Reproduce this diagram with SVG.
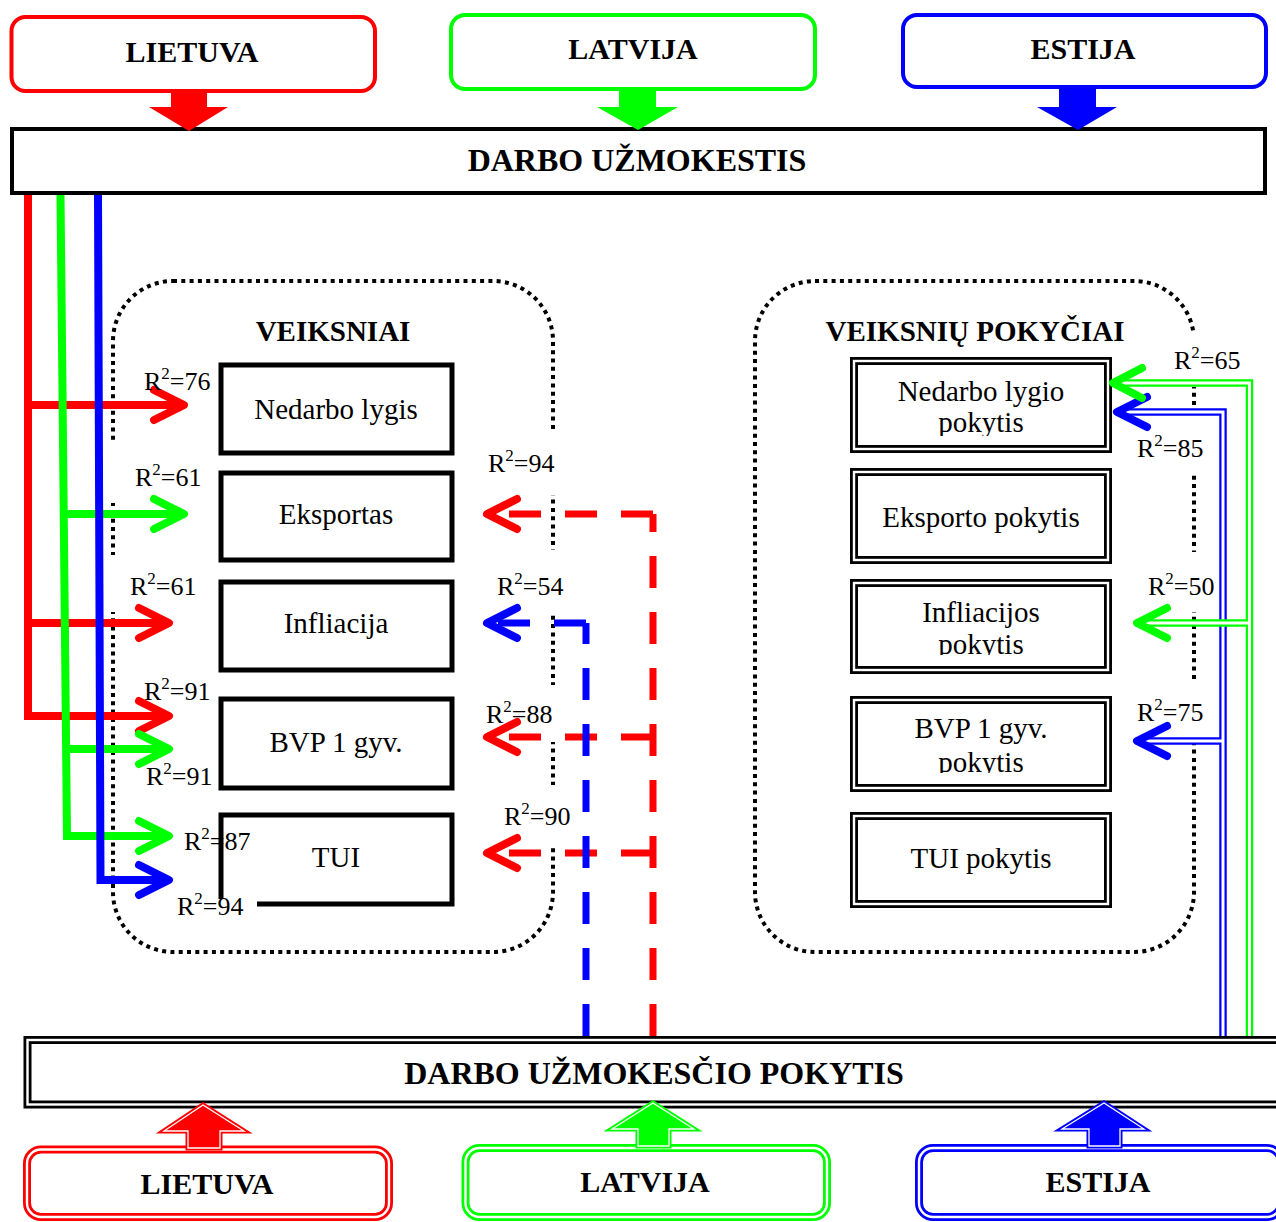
<svg xmlns="http://www.w3.org/2000/svg" width="1276" height="1222" viewBox="0 0 1276 1222">
<defs>
<style>
text{font-family:"Liberation Serif","Times New Roman",serif;fill:#000}
.ti{font-size:30px;font-weight:bold;text-anchor:middle}
.tb{font-size:32px;font-weight:bold;text-anchor:middle}
.td{font-size:29px;font-weight:bold;text-anchor:middle}
.bx{font-size:29px;text-anchor:middle}
.lb{font-size:26px}
.sp{font-size:17px}
.cbox{fill:#fff;stroke-width:4}
.box{fill:#fff;stroke:#000;stroke-width:5}
.bar{fill:#fff;stroke:#000;stroke-width:4}
.dO{fill:#fff;stroke-width:8}
.dI{fill:none;stroke:#fff;stroke-width:2.4}
.dot{fill:none;stroke:#000;stroke-width:4;stroke-dasharray:4 4.3}
.cover{fill:#fff}
.sol{fill:none;stroke-width:8}
.dash{fill:none;stroke-width:7;stroke-dasharray:32 24}
.dl{fill:none;stroke-width:7.5}
.dlw{fill:none;stroke:#fff;stroke-width:3}
.chev{fill:none;stroke-width:8;stroke-linecap:round;stroke-linejoin:round}
.aw{fill:none;stroke:#fff;stroke-width:1.3}
.red{stroke:#ff0000}.grn{stroke:#00ff00}.blu{stroke:#0000ff}
.fr{fill:#ff0000}.fg{fill:#00ff00}.fb{fill:#0000ff}
</style>
<marker id="aR" viewBox="-36 -20 42 40" markerWidth="42" markerHeight="40" refX="0" refY="0" orient="auto" markerUnits="userSpaceOnUse"><path d="M-30,-15 L0,0 L-30,15" fill="none" stroke="#ff0000" stroke-width="8" stroke-linecap="round" stroke-linejoin="round"/></marker>
<marker id="aG" viewBox="-36 -20 42 40" markerWidth="42" markerHeight="40" refX="0" refY="0" orient="auto" markerUnits="userSpaceOnUse"><path d="M-30,-15 L0,0 L-30,15" fill="none" stroke="#00ff00" stroke-width="8" stroke-linecap="round" stroke-linejoin="round"/></marker>
<marker id="aB" viewBox="-36 -20 42 40" markerWidth="42" markerHeight="40" refX="0" refY="0" orient="auto" markerUnits="userSpaceOnUse"><path d="M-30,-15 L0,0 L-30,15" fill="none" stroke="#0000ff" stroke-width="8" stroke-linecap="round" stroke-linejoin="round"/></marker>
<clipPath id="c1"><rect x="858" y="364" width="246" height="72"/></clipPath>
<clipPath id="c3"><rect x="858" y="586" width="246" height="69"/></clipPath>
<clipPath id="c4"><rect x="858" y="703" width="246" height="70"/></clipPath>
</defs>

<g id="veiksniai">
<rect class="dot" x="113" y="281" width="440" height="671" rx="60"/>
<text class="td" x="333" y="341">VEIKSNIAI</text>
</g>
<g id="veiksniu-pokyciai">
<rect class="dot" x="755" y="281" width="439" height="671" rx="60"/>
<text class="td" x="975" y="341">VEIKSNIŲ POKYČIAI</text>
</g>
<g id="covers">
<rect class="cover" x="545" y="433" width="16" height="62"/>
<rect class="cover" x="545" y="550" width="16" height="63"/>
<rect class="cover" x="545" y="685" width="16" height="57"/>
<rect class="cover" x="545" y="785" width="16" height="60"/>
<rect class="cover" x="105" y="443" width="16" height="60"/>
<rect class="cover" x="105" y="555" width="16" height="57"/>
<rect class="cover" x="1186" y="333" width="16" height="54"/>
<rect class="cover" x="1186" y="412" width="16" height="61"/>
<rect class="cover" x="1186" y="552" width="16" height="60"/>
<rect class="cover" x="1186" y="680" width="16" height="58"/>
</g>

<g id="lietuva-top"><rect class="cbox red" x="11.5" y="17" width="363.5" height="74" rx="14"/><text class="ti" x="192" y="62">LIETUVA</text></g>
<g id="latvija-top"><rect class="cbox grn" x="451" y="15" width="364" height="74" rx="14"/><text class="ti" x="633" y="59">LATVIJA</text></g>
<g id="estija-top"><rect class="cbox blu" x="903" y="15" width="363" height="72" rx="14"/><text class="ti" x="1083" y="59">ESTIJA</text></g>

<g id="darbo-uzmokestis"><rect class="bar" x="12" y="129" width="1253" height="64"/><text class="tb" x="637" y="171">DARBO UŽMOKESTIS</text></g>

<g id="nedarbo-lygis"><rect class="box" x="221" y="365" width="231" height="88"/><text class="bx" x="336" y="419">Nedarbo lygis</text></g>
<g id="eksportas"><rect class="box" x="221" y="473" width="231" height="87"/><text class="bx" x="336" y="524">Eksportas</text></g>
<g id="infliacija"><rect class="box" x="221" y="582" width="231" height="88"/><text class="bx" x="336" y="633">Infliacija</text></g>
<g id="bvp"><rect class="box" x="221" y="699" width="231" height="89"/><text class="bx" x="336" y="752">BVP 1 gyv.</text></g>
<g id="tui"><rect class="box" x="221" y="815" width="231" height="89"/><text class="bx" x="336" y="867">TUI</text></g>
<rect class="cover" x="160" y="899" width="97" height="24"/>

<g id="nedarbo-lygio-pokytis"><rect class="dO" stroke="#000" x="854" y="361" width="254" height="88"/><rect class="dI" x="854" y="361" width="254" height="88"/><g clip-path="url(#c1)"><text class="bx" x="981" y="401">Nedarbo lygio</text><text class="bx" x="981" y="432">pokytis</text></g></g>
<g id="eksporto-pokytis"><rect class="dO" stroke="#000" x="854" y="472" width="254" height="88"/><rect class="dI" x="854" y="472" width="254" height="88"/><text class="bx" x="981" y="527">Eksporto pokytis</text></g>
<g id="infliacijos-pokytis"><rect class="dO" stroke="#000" x="854" y="583" width="254" height="87"/><rect class="dI" x="854" y="583" width="254" height="87"/><g clip-path="url(#c3)"><text class="bx" x="981" y="622">Infliacijos</text><text class="bx" x="981" y="654">pokytis</text></g></g>
<g id="bvp-pokytis"><rect class="dO" stroke="#000" x="854" y="700" width="254" height="88"/><rect class="dI" x="854" y="700" width="254" height="88"/><g clip-path="url(#c4)"><text class="bx" x="981" y="738">BVP 1 gyv.</text><text class="bx" x="981" y="772">pokytis</text></g></g>
<g id="tui-pokytis"><rect class="dO" stroke="#000" x="854" y="816" width="254" height="88"/><rect class="dI" x="854" y="816" width="254" height="88"/><text class="bx" x="981" y="868">TUI pokytis</text></g>

<g id="darbo-uzmokescio-pokytis"><rect class="dO" stroke="#000" x="27.5" y="1040" width="1300" height="64.5"/><rect class="dI" x="27.5" y="1040" width="1300" height="64.5"/><text class="tb" x="654" y="1084">DARBO UŽMOKESČIO POKYTIS</text></g>

<g id="lietuva-bottom"><rect class="dO red" x="27" y="1149.5" width="362" height="67.5" rx="14"/><rect class="dI" x="27" y="1149.5" width="362" height="67.5" rx="14"/><text class="ti" x="207" y="1194">LIETUVA</text></g>
<g id="latvija-bottom"><rect class="dO grn" x="465.5" y="1148" width="361.5" height="69" rx="14"/><rect class="dI" x="465.5" y="1148" width="361.5" height="69" rx="14"/><text class="ti" x="645" y="1192">LATVIJA</text></g>
<g id="estija-bottom"><rect class="dO blu" x="919" y="1148" width="362" height="69" rx="14"/><rect class="dI" x="919" y="1148" width="362" height="69" rx="14"/><text class="ti" x="1098" y="1192">ESTIJA</text></g>

<g id="connectors">
<polygon class="fr" points="171,90 207,90 207,107 228,107 189,131 149,107 171,107"/>
<polygon class="fg" points="619,88 656,88 656,107 678,107 638,130 597,107 619,107"/>
<polygon class="fb" points="1059,86 1096,86 1096,107 1117,107 1078,130 1037,107 1059,107"/>

<polygon class="fr red" stroke-width="5" points="188,1148 220,1148 220,1131 244,1131 203,1105 164,1131 188,1131"/>
<polygon class="aw" points="188,1148 220,1148 220,1131 244,1131 203,1105 164,1131 188,1131"/>
<polygon class="fg grn" stroke-width="5" points="638,1146 669,1146 669,1129 694,1129 653,1103 612,1129 638,1129"/>
<polygon class="aw" points="638,1146 669,1146 669,1129 694,1129 653,1103 612,1129 638,1129"/>
<polygon class="fb blu" stroke-width="5" points="1089,1146 1120,1146 1120,1129 1144,1129 1104,1103 1062,1129 1089,1129"/>
<polygon class="aw" points="1089,1146 1120,1146 1120,1129 1144,1129 1104,1103 1062,1129 1089,1129"/>

<path class="sol red" d="M28,195 V716 H169" marker-end="url(#aR)"/>
<path class="sol red" d="M28,405 H184" marker-end="url(#aR)"/>
<path class="sol red" d="M28,623 H169" marker-end="url(#aR)"/>
<path class="sol grn" stroke-width="7" d="M60.5,195 L67,836 H169" marker-end="url(#aG)"/>
<path class="sol grn" stroke-width="7" d="M63.7,514 H184" marker-end="url(#aG)"/>
<path class="sol grn" stroke-width="7" d="M66,749 H169" marker-end="url(#aG)"/>
<path class="sol blu" stroke-width="7" d="M98,195 L100.5,880 H169" marker-end="url(#aB)"/>

<path class="dash red" stroke-dashoffset="14" d="M653,514 V1036"/>
<path class="dash red" d="M653,514 H487" marker-end="url(#aR)"/>
<path class="dash red" d="M653,737 H487" marker-end="url(#aR)"/>
<path class="dash red" d="M653,853 H487" marker-end="url(#aR)"/>
<path class="dash blu" stroke-dashoffset="11" d="M586,623 V1036"/>
<path class="dash blu" d="M586,623 H487" marker-end="url(#aB)"/>

<path class="dl blu" d="M1223,1036 V412 H1118"/>
<path class="dl blu" d="M1223,741 H1138"/>
<path class="dlw" d="M1223,1036 V412 H1122"/>
<path class="dlw" d="M1223,741 H1142"/>
<path class="chev blu" d="M1147,397 L1117,412 L1147,427"/>
<path class="chev blu" d="M1167,726 L1137,741 L1167,756"/>
<path class="dl grn" d="M1249.5,1036 V383 H1114"/>
<path class="dl grn" d="M1249.5,623 H1138"/>
<path class="dlw" d="M1249.5,1036 V383 H1118"/>
<path class="dlw" d="M1249.5,623 H1142"/>
<path class="chev grn" d="M1142,368 L1113,383 L1142,398"/>
<path class="chev grn" d="M1167,608 L1137,623 L1167,638"/>
</g>

<g id="labels">
<text class="lb" x="144" y="390">R<tspan class="sp" dy="-11">2</tspan><tspan dy="11">=76</tspan></text>
<text class="lb" x="135" y="486">R<tspan class="sp" dy="-11">2</tspan><tspan dy="11">=61</tspan></text>
<text class="lb" x="130" y="595">R<tspan class="sp" dy="-11">2</tspan><tspan dy="11">=61</tspan></text>
<text class="lb" x="144" y="700">R<tspan class="sp" dy="-11">2</tspan><tspan dy="11">=91</tspan></text>
<text class="lb" x="146" y="785">R<tspan class="sp" dy="-11">2</tspan><tspan dy="11">=91</tspan></text>
<text class="lb" x="184" y="850">R<tspan class="sp" dy="-11">2</tspan><tspan dy="11">=87</tspan></text>
<text class="lb" x="177" y="915">R<tspan class="sp" dy="-11">2</tspan><tspan dy="11">=94</tspan></text>
<text class="lb" x="488" y="472">R<tspan class="sp" dy="-11">2</tspan><tspan dy="11">=94</tspan></text>
<text class="lb" x="497" y="595">R<tspan class="sp" dy="-11">2</tspan><tspan dy="11">=54</tspan></text>
<text class="lb" x="486" y="723">R<tspan class="sp" dy="-11">2</tspan><tspan dy="11">=88</tspan></text>
<text class="lb" x="504" y="825">R<tspan class="sp" dy="-11">2</tspan><tspan dy="11">=90</tspan></text>
<text class="lb" x="1174" y="369">R<tspan class="sp" dy="-11">2</tspan><tspan dy="11">=65</tspan></text>
<text class="lb" x="1137" y="457">R<tspan class="sp" dy="-11">2</tspan><tspan dy="11">=85</tspan></text>
<text class="lb" x="1148" y="595">R<tspan class="sp" dy="-11">2</tspan><tspan dy="11">=50</tspan></text>
<text class="lb" x="1137" y="721">R<tspan class="sp" dy="-11">2</tspan><tspan dy="11">=75</tspan></text>
</g>
</svg>
